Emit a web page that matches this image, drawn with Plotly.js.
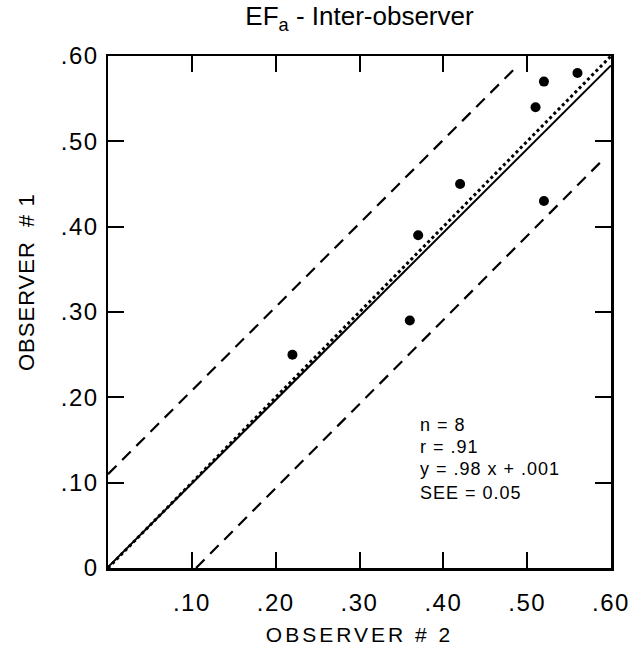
<!DOCTYPE html>
<html>
<head>
<meta charset="utf-8">
<script src="https://cdn.plot.ly/plotly-3.0.1.min.js"></script>
<style>
  html, body { margin: 0; padding: 0; background: #fff; }
  #chart { width: 644px; height: 649px; }
  .g-xtitle text { letter-spacing: 3px; }
  .xtick text, .ytick text { letter-spacing: 1.5px; }
  .annotation-text { letter-spacing: 1px; }
</style>
</head>
<body>
<div id="chart"></div>
<script>
// Data points (Observer #2 vs Observer #1)
const obs2 = [0.22, 0.36, 0.37, 0.42, 0.51, 0.52, 0.56, 0.52];
const obs1 = [0.25, 0.29, 0.39, 0.45, 0.54, 0.57, 0.58, 0.43];

// Line endpoints
const identityX = [0, 0.6];
const identityY = [0, 0.6];
const regressionX = [0, 0.6];
const regressionY = [0.001, 0.589];
const upperX = [0, 0.487];
const upperY = [0.11, 0.587];
const lowerX = [0.105, 0.59];
const lowerY = [0, 0.478];

// Tick labels
const xTickVals = [0.1, 0.2, 0.3, 0.4, 0.5, 0.6];
const xTickText = ['.10', '.20', '.30', '.40', '.50', '.60'];
const yTickVals = [0, 0.1, 0.2, 0.3, 0.4, 0.5, 0.6];
const yTickText = ['0', '.10', '.20', '.30', '.40', '.50', '.60'];

const statsLines = ['n = 8', 'r = .91', 'y = .98 x + .001', 'SEE = 0.05'];

const FONT = 'Liberation Sans, Arial, sans-serif';

const traces = [
  { x: upperX, y: upperY, mode: 'lines', line: { color: '#000', width: 2.2, dash: '12px,8px' }, hoverinfo: 'skip' },
  { x: lowerX, y: lowerY, mode: 'lines', line: { color: '#000', width: 2.2, dash: '12px,8px' }, hoverinfo: 'skip' },
  { x: identityX, y: identityY, mode: 'lines', line: { color: '#000', width: 3, dash: 'dot' }, hoverinfo: 'skip' },
  { x: regressionX, y: regressionY, mode: 'lines', line: { color: '#000', width: 2 }, hoverinfo: 'skip' },
  { x: obs2, y: obs1, mode: 'markers', marker: { color: '#000', size: 10 } }
];

const axisCommon = {
  range: [0, 0.6],
  showgrid: false,
  zeroline: false,
  showline: true,
  linecolor: '#000',
  linewidth: 2.5,
  mirror: 'ticks',
  ticks: 'inside',
  ticklen: 16,
  tickwidth: 2,
  tickcolor: '#000',
  tickmode: 'array',
  tickfont: { family: FONT, size: 24, color: '#000' }
};

const layout = {
  width: 644,
  height: 649,
  margin: { l: 108, r: 33, t: 56, b: 81 },
  paper_bgcolor: '#fff',
  plot_bgcolor: '#fff',
  showlegend: false,
  title: {
    text: 'EF<sub>a</sub> - Inter-observer',
    font: { family: FONT, size: 26, color: '#000' },
    x: 0.5 * (108 + 611) / 644,
    xanchor: 'center',
    y: 0.975,
    yanchor: 'middle'
  },
  xaxis: Object.assign({}, axisCommon, {
    tickvals: xTickVals,
    ticktext: xTickText,
    ticklabelstandoff: 12,
    title: { text: 'OBSERVER # 2', font: { family: FONT, size: 21, color: '#000' }, standoff: 12 }
  }),
  yaxis: Object.assign({}, axisCommon, {
    tickvals: yTickVals,
    ticktext: yTickText,
    ticklabelstandoff: 2
  }),
  annotations: [{
    xref: 'paper', yref: 'paper',
    x: (26 - 108) / 503, y: (568 - 282) / 512,
    xanchor: 'center', yanchor: 'middle',
    text: 'OBSERVER  # 1', textangle: -90, showarrow: false,
    font: { family: FONT, size: 22, color: '#000' }
  }].concat(statsLines.map((t, i) => ({
    xref: 'paper', yref: 'paper',
    x: (418 - 108) / 503, y: [0.279, 0.236, 0.193, 0.146][i],
    xanchor: 'left', yanchor: 'middle',
    text: t, showarrow: false,
    font: { family: FONT, size: 18, color: '#000' }
  })))
};

Plotly.newPlot('chart', traces, layout, { displayModeBar: false, staticPlot: true });
</script>
</body>
</html>
